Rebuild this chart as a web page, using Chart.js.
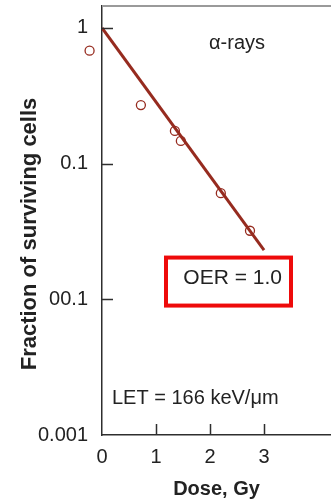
<!DOCTYPE html>
<html>
<head>
<meta charset="utf-8">
<script src="https://cdn.jsdelivr.net/npm/chart.js@4"></script>
<style>
  html, body { margin: 0; padding: 0; background: #fff; }
  #wrap { width: 331px; height: 502px; }
</style>
</head>
<body>
<div id="wrap"><canvas id="chart" width="331" height="502"></canvas></div>
<script>
// survival data, alpha particles
const doses = [-0.23, 0.72, 1.35, 1.46, 2.2, 2.74];
const survival = [0.68, 0.27, 0.174, 0.147, 0.0605, 0.032];

// fitted exponential line
const fitDoses = [0, 3.0];
const fitSurvival = [1, 0.023];

const xTicks = [0, 1, 2, 3];
const yTicks = [0.001, 0.01, 0.1, 1];
const yTickLabels = ["0.001", "00.1", "0.1", "1"];

const RED = "#962b1f";
const AXIS = "#2e2e2e";
const FONT = "'Liberation Sans', Arial, sans-serif";

/* =========================
   EXTRAS: frame, ticks, notes
========================= */
const extras = {
  id: "extras",
  afterDatasetsDraw(c) {
    // points lying left of the axis are still drawn
    const meta = c.getDatasetMeta(1);
    const a = c.chartArea;
    const wide = { left: -1e4, top: -1e4, right: 1e4, bottom: 1e4 };
    meta.data.forEach((pt) => {
      if (pt.x < a.left || pt.x > a.right) pt.draw(c.ctx, wide);
    });
  },
  afterDraw(c) {
    const { ctx, chartArea: a, scales } = c;
    const x = scales.x, y = scales.y;
    ctx.save();

    // grey top frame line
    ctx.strokeStyle = "#9a9a9a";
    ctx.lineWidth = 2;
    ctx.beginPath();
    ctx.moveTo(a.left, a.top);
    ctx.lineTo(a.right, a.top);
    ctx.stroke();

    // inward tick marks
    ctx.strokeStyle = AXIS;
    ctx.lineWidth = 1.5;
    ctx.beginPath();
    yTicks.forEach((v) => {
      if (v === y.min) return;
      const py = Math.round(y.getPixelForValue(v)) + 0.5;
      ctx.moveTo(a.left, py);
      ctx.lineTo(a.left + 11, py);
    });
    xTicks.forEach((v) => {
      if (v === 0) return;
      const px = Math.round(x.getPixelForValue(v)) + 0.5;
      ctx.moveTo(px, a.bottom);
      ctx.lineTo(px, a.bottom - 11);
    });
    ctx.stroke();

    // y title
    ctx.fillStyle = "#222";
    ctx.font = "bold 22px " + FONT;
    ctx.textAlign = "center";
    ctx.textBaseline = "middle";
    ctx.save();
    ctx.translate(30, 234);
    ctx.rotate(-Math.PI / 2);
    ctx.fillText("Fraction of surviving cells", 0, 0);
    ctx.restore();

    // labels
    ctx.font = "20px " + FONT;
    ctx.fillStyle = "#222";
    ctx.textAlign = "center";
    ctx.fillText("\u03b1-rays", x.getPixelForValue(2.5), y.getPixelForValue(0.77));

    ctx.textAlign = "left";
    ctx.fillText("LET = 166 keV/\u03bcm", x.getPixelForValue(0.185), y.getPixelForValue(0.00185));

    // OER box
    const bx = x.getPixelForValue(1.185);
    const by = y.getPixelForValue(0.0203);
    const bw = 125, bh = 48;
    ctx.strokeStyle = "#ee0a0a";
    ctx.lineWidth = 4;
    ctx.strokeRect(bx, by, bw, bh);
    ctx.font = "21px " + FONT;
    ctx.textAlign = "right";
    ctx.fillText("OER = 1.0", bx + bw - 9, by + 21);

    ctx.restore();
  },
};

new Chart(document.getElementById("chart"), {
  type: "scatter",
  data: {
    datasets: [
      {
        data: fitDoses.map((d, i) => ({ x: d, y: fitSurvival[i] })),
        showLine: true,
        borderColor: RED,
        borderWidth: 3,
        pointRadius: 0,
      },
      {
        data: doses.map((d, i) => ({ x: d, y: survival[i] })),
        borderColor: RED,
        backgroundColor: "rgba(0,0,0,0)",
        borderWidth: 1.3,
        pointRadius: 4.5,
        clip: false,
      },
    ],
  },
  options: {
    responsive: false,
    animation: false,
    devicePixelRatio: 1,
    layout: { autoPadding: false, padding: { top: 6, left: 0, right: 0, bottom: 0 } },
    plugins: { legend: { display: false }, tooltip: { enabled: false } },
    scales: {
      x: {
        type: "linear",
        min: 0,
        max: 4.24,
        afterBuildTicks: (s) => { s.ticks = xTicks.map((v) => ({ value: v })); },
        afterFit: (s) => {
          s.height = 67;
          s.paddingLeft = 0;
          s.paddingRight = 0;
        },
        grid: { display: false, drawTicks: false },
        border: { display: true, color: AXIS, width: 1.5 },
        ticks: { color: "#222", font: { family: FONT, size: 20 }, padding: 10, maxRotation: 0 },
        title: {
          display: true,
          text: "Dose, Gy",
          color: "#222",
          font: { family: FONT, size: 20, weight: "bold" },
          padding: { top: 0, bottom: 1 },
        },
      },
      y: {
        type: "logarithmic",
        min: 0.001,
        max: 1.45,
        afterBuildTicks: (s) => { s.ticks = yTicks.map((v) => ({ value: v })); },
        afterFit: (s) => {
          s.width = 102;
          s.paddingTop = 0;
          s.paddingBottom = 0;
        },
        grid: { display: false, drawTicks: false },
        border: { display: true, color: AXIS, width: 1.5 },
        ticks: {
          color: "#222",
          font: { family: FONT, size: 20 },
          padding: 14,
          callback: (v, i) => yTickLabels[i],
        },
      },
    },
  },
  plugins: [extras],
});
</script>
</body>
</html>
